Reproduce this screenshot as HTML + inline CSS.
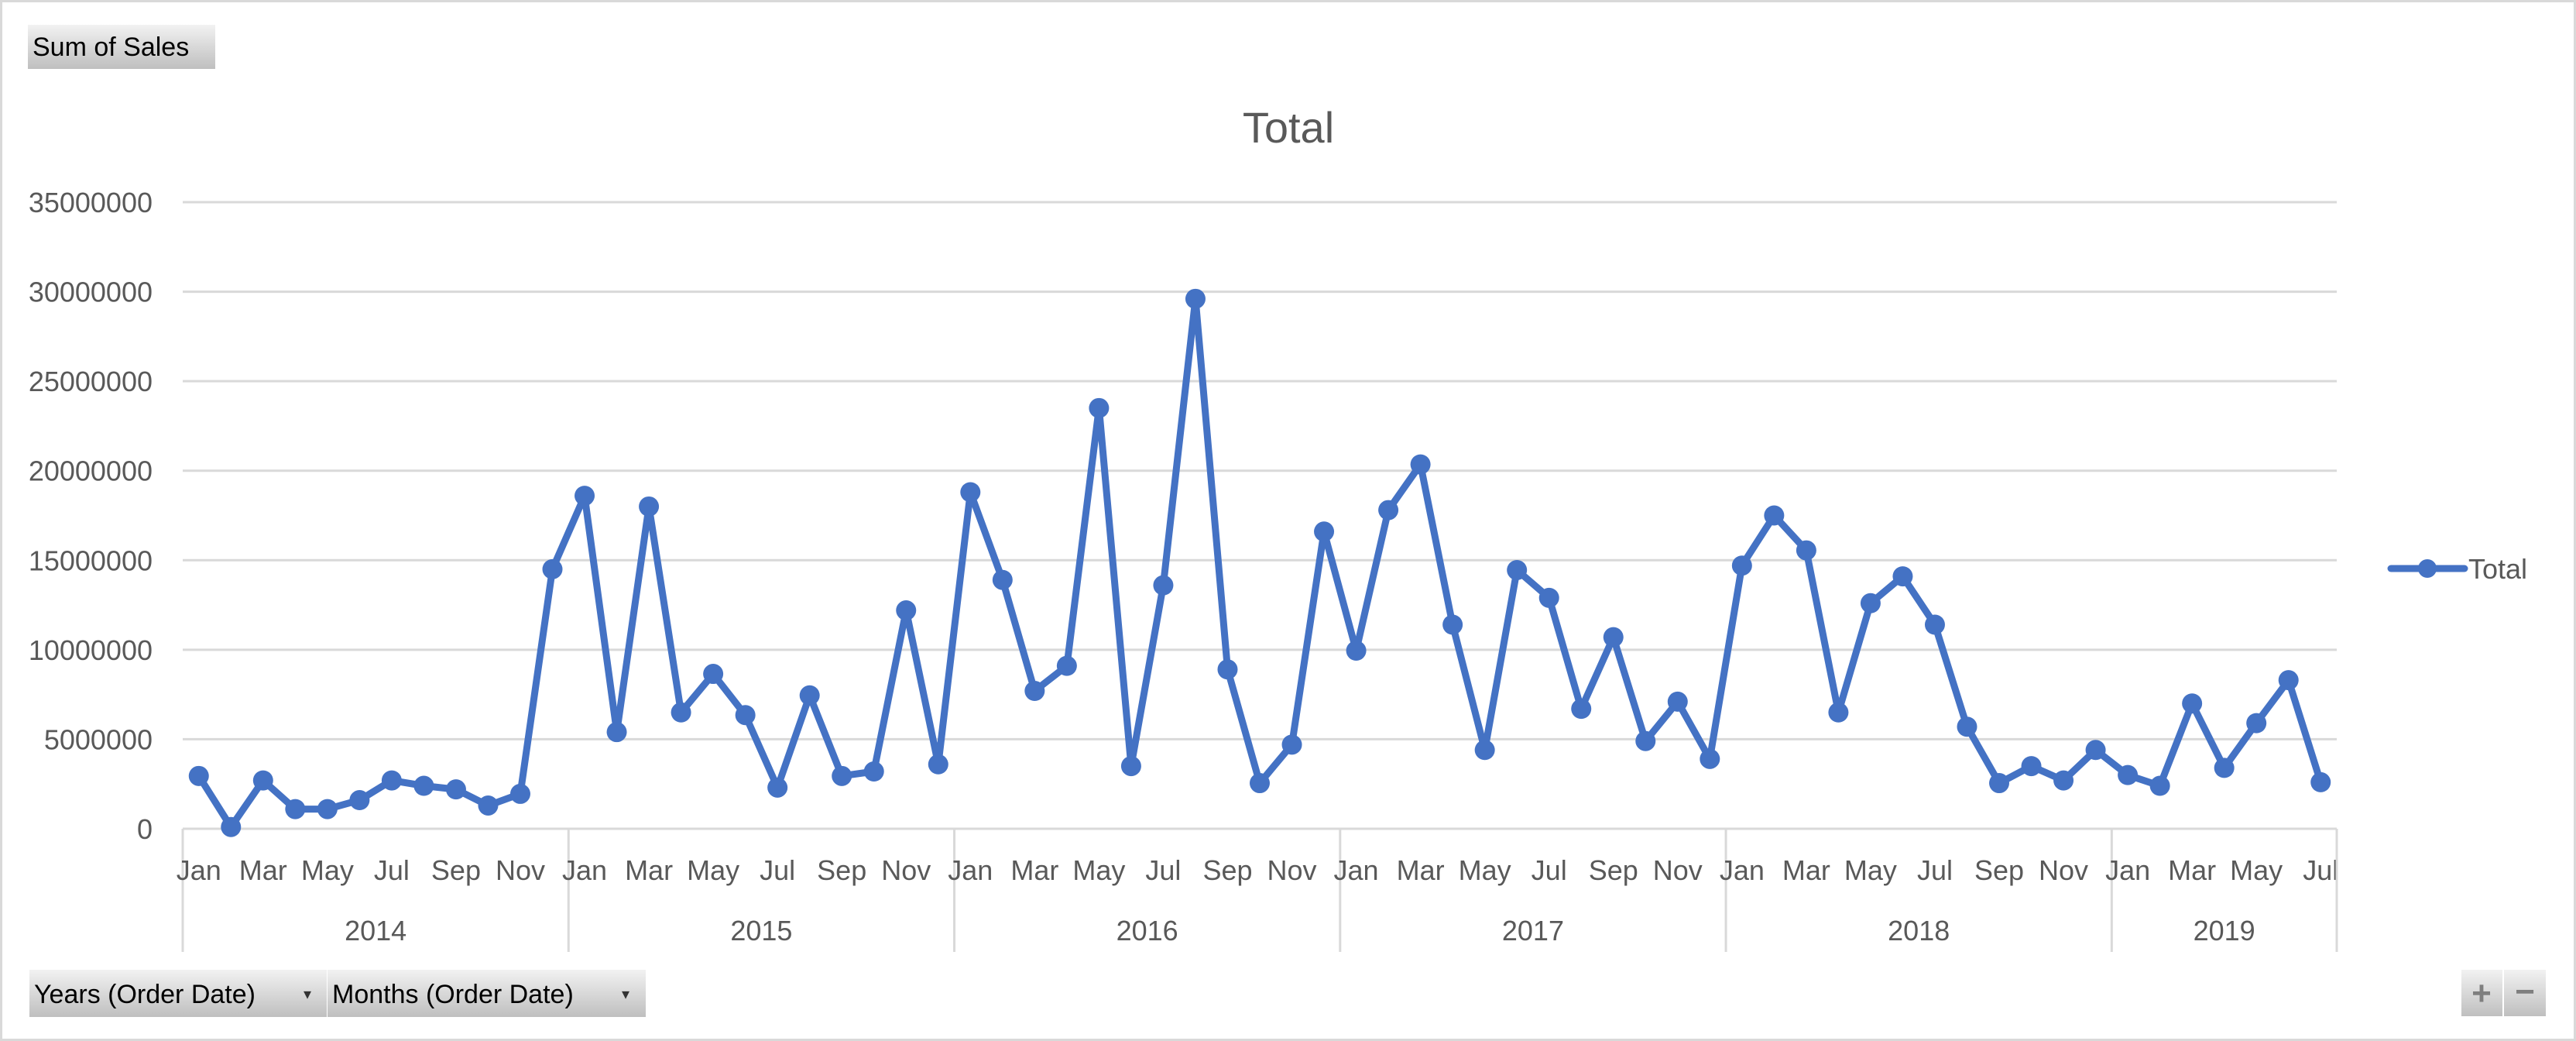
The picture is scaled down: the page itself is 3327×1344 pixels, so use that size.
<!DOCTYPE html>
<html><head><meta charset="utf-8"><style>
html,body{margin:0;padding:0;background:#fff}
body{width:3327px;height:1344px;overflow:hidden;font-family:"Liberation Sans",sans-serif}
svg{display:block}
</style></head><body>
<svg id="chart" width="3327" height="1344" viewBox="0 0 3327 1344">
<rect x="1.5" y="1.5" width="3324" height="1341" fill="#fff" stroke="#d9d9d9" stroke-width="3"/>
<defs><linearGradient id="btn" x1="0" y1="0" x2="0" y2="1"><stop offset="0" stop-color="#f2f2f2"/><stop offset="1" stop-color="#bfbfbf"/></linearGradient></defs>
<g><rect x="36" y="32" width="242" height="57" fill="url(#btn)"/><text x="42" y="72" font-size="34" fill="#000">Sum of Sales</text></g>
<text x="1664" y="184" font-size="56" fill="#595959" text-anchor="middle">Total</text>
<g id="grid"></g>
<g id="yaxis"></g>
<g id="xaxis"></g>
<g id="series"></g>
<g><line x1="3088" y1="734" x2="3183" y2="734" stroke="#4472C4" stroke-width="9" stroke-linecap="round"/><circle cx="3135" cy="734" r="12" fill="#4472C4"/><text x="3188" y="747" font-size="36" fill="#595959">Total</text></g>
<g><rect x="38" y="1252" width="384" height="61" fill="url(#btn)"/><text x="44" y="1295" font-size="34" fill="#000">Years (Order Date)</text><text x="392" y="1290" font-size="20" fill="#333">▾</text></g>
<g><rect x="423" y="1252" width="411" height="61" fill="url(#btn)"/><text x="429" y="1295" font-size="34" fill="#000">Months (Order Date)</text><text x="803" y="1290" font-size="20" fill="#333">▾</text></g>
<g><rect x="3179" y="1252" width="53" height="60" fill="url(#btn)"/><text x="3205" y="1297" font-size="44" fill="#7f7f7f" text-anchor="middle" font-weight="bold">+</text></g>
<g><rect x="3234" y="1252" width="54" height="60" fill="url(#btn)"/><text x="3261" y="1295" font-size="44" fill="#7f7f7f" text-anchor="middle" font-weight="bold">−</text></g>
</svg>
<script>
const years=["2014","2015","2016","2017","2018","2019"];
const monthNames=["Jan","Feb","Mar","Apr","May","Jun","Jul","Aug","Sep","Oct","Nov","Dec"];
const yTicks=[0,5000000,10000000,15000000,20000000,25000000,30000000,35000000];
const sales2014=[2.95,0.1,2.7,1.1,1.1,1.6,2.7,2.4,2.2,1.3,1.95,14.5];
const sales2015=[18.6,5.4,18.0,6.5,8.65,6.35,2.3,7.45,2.95,3.2,12.2,3.6];
const sales2016=[18.8,13.9,7.7,9.1,23.5,3.5,13.6,29.6,8.9,2.55,4.7,16.6];
const sales2017=[9.95,17.8,20.35,11.4,4.4,14.45,12.9,6.7,10.7,4.9,7.1,3.9];
const sales2018=[14.7,17.5,15.55,6.5,12.6,14.1,11.4,5.7,2.55,3.5,2.7,4.4];
const sales2019=[3.0,2.4,7.0,3.4,5.9,8.3,2.6];
const values=[].concat(sales2014,sales2015,sales2016,sales2017,sales2018,sales2019).map(v=>v*1e6);
const yearCounts=[sales2014.length,sales2015.length,sales2016.length,sales2017.length,sales2018.length,sales2019.length];

const NS="http://www.w3.org/2000/svg";
const L=236,R=3018,T=261,B=1070,yMax=35000000;
const slot=(R-L)/values.length;
const xPos=i=>L+slot*(i+0.5);
const yPos=v=>B-(v/yMax)*(B-T);
function mk(tag,attrs,parent,text){const e=document.createElementNS(NS,tag);for(const k in attrs)e.setAttribute(k,attrs[k]);if(text!==undefined)e.textContent=text;parent.appendChild(e);return e;}
const grid=document.getElementById('grid'),ya=document.getElementById('yaxis'),xa=document.getElementById('xaxis'),ser=document.getElementById('series');
yTicks.forEach(t=>{
  const y=yPos(t);
  if(t>0){const g=mk('line',{x1:L,x2:R,y1:y,y2:y,stroke:'#d9d9d9','stroke-width':3},grid);
  
  }
  const lb=mk('text',{x:197,y:y+13,'font-size':36,fill:'#595959','text-anchor':'end'},ya,String(t));
  
  
});
mk('line',{x1:L,x2:R,y1:B,y2:B,stroke:'#d9d9d9','stroke-width':3},xa);
let idx=0;
mk('line',{x1:L,x2:L,y1:B,y2:1229,stroke:'#d9d9d9','stroke-width':3},xa);
years.forEach((yr,yi)=>{
  const n=yearCounts[yi];
  for(let m=0;m<n;m++){
    if(m%2===0){const t=mk('text',{x:xPos(idx+m),y:1136,'font-size':36,fill:'#595959','text-anchor':'middle'},xa,monthNames[m]);
    
    }
  }
  const xe=L+slot*(idx+n);
  mk('line',{x1:xe,x2:xe,y1:B,y2:1229,stroke:'#d9d9d9','stroke-width':3},xa);
  const yl=mk('text',{x:(L+slot*idx+xe)/2,y:1214,'font-size':36,fill:'#595959','text-anchor':'middle'},xa,yr);
  
  
  idx+=n;
});
const pts=values.map((v,i)=>xPos(i).toFixed(1)+','+yPos(v).toFixed(1)).join(' ');
const pl=mk('polyline',{points:pts,fill:'none',stroke:'#4472C4','stroke-width':9,'stroke-linejoin':'round'},ser);


values.forEach((v,i)=>{
  const c=mk('circle',{cx:xPos(i),cy:yPos(v),r:13,fill:'#4472C4'},ser);
  
  
});
</script>
</body></html>
